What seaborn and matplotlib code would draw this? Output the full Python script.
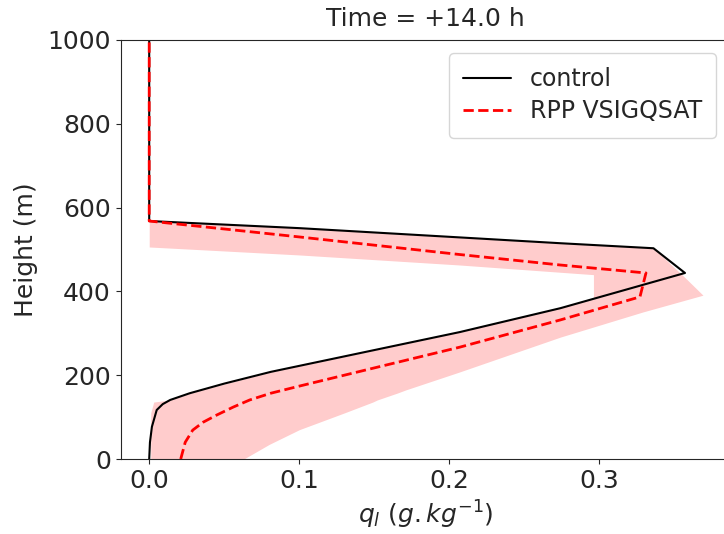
import matplotlib
matplotlib.use('Agg')
import matplotlib.pyplot as plt
import seaborn as sns

# control run: liquid water content (g/kg) against height (m)
control_ql = [0.0, 0.0005, 0.0018, 0.005, 0.009, 0.014, 0.027, 0.05,
              0.081, 0.207, 0.274, 0.357, 0.336, 0.274, 0.1, 0.0, 0.0]
control_z = [0, 40, 77, 117, 131, 141, 157, 180, 208, 303, 360, 444, 503,
             515, 551, 568, 1000]

# ensemble mean of the perturbed runs
rpp_ql = [0.021, 0.024, 0.029, 0.036, 0.045, 0.056, 0.067, 0.081, 0.1,
          0.207, 0.274, 0.327, 0.331, 0.274, 0.207, 0.1, 0.0, 0.0]
rpp_z = [0, 40, 69, 88, 105, 124, 141, 157, 174, 267, 332, 387, 444, 463,
         488, 530, 568, 1000]

# ensemble spread (min / max at each height)
spread_z = [0, 35, 70, 110, 136, 141, 157, 165, 208, 291, 351, 382, 391,
            440, 463, 487, 503, 506, 515, 530, 551, 570]
spread_lo = [0.001, 0.001, 0.001, 0.001, 0.003, 0.014, 0.027, 0.035,
             0.081, 0.191, 0.263, 0.296, 0.296, 0.296, 0.207, 0.1, 0.016,
             0.0, 0.0, 0.0, 0.0, 0.0]
spread_hi = [0.063, 0.08, 0.1, 0.13, 0.149, 0.152, 0.165, 0.171, 0.207,
             0.274, 0.329, 0.360, 0.369, 0.355, 0.348, 0.341, 0.336,
             0.32, 0.274, 0.2, 0.1, 0.0]

sns.set_style('ticks')
fs = 18

fig = plt.figure(figsize=(7.24, 5.34), dpi=100)
ax = fig.add_axes([0.1667, 0.1404, 0.8416, 0.7847])

ax.fill_betweenx(spread_z, spread_lo, spread_hi, color='red', alpha=0.2,
                 linewidth=0)
sns.lineplot(x=control_ql, y=control_z, sort=False, estimator=None,
             color='black', linewidth=1.5, label='control', ax=ax)
sns.lineplot(x=rpp_ql, y=rpp_z, sort=False, estimator=None,
             color='red', linewidth=2, linestyle='--',
             label='RPP VSIGQSAT', ax=ax)

ax.set_xlim(-0.019, 0.387)
ax.set_ylim(0, 1000)
ax.set_xticks([0.0, 0.1, 0.2, 0.3])
ax.set_yticks([0, 200, 400, 600, 800, 1000])
ax.tick_params(labelsize=fs)
ax.set_xlabel(r'$q_l\ (g.kg^{-1})$', fontsize=fs)
ax.set_ylabel('Height (m)', fontsize=fs, labelpad=7)
ax.set_title('Time = +14.0 h', fontsize=fs, pad=10)

ax.legend(loc='upper right', bbox_to_anchor=(716 / 724, 1 - 53 / 534),
          bbox_transform=fig.transFigure, borderaxespad=0, frameon=True,
          fontsize=17, borderpad=0.6, labelspacing=0.35)

fig.savefig('out.png', dpi=100)
